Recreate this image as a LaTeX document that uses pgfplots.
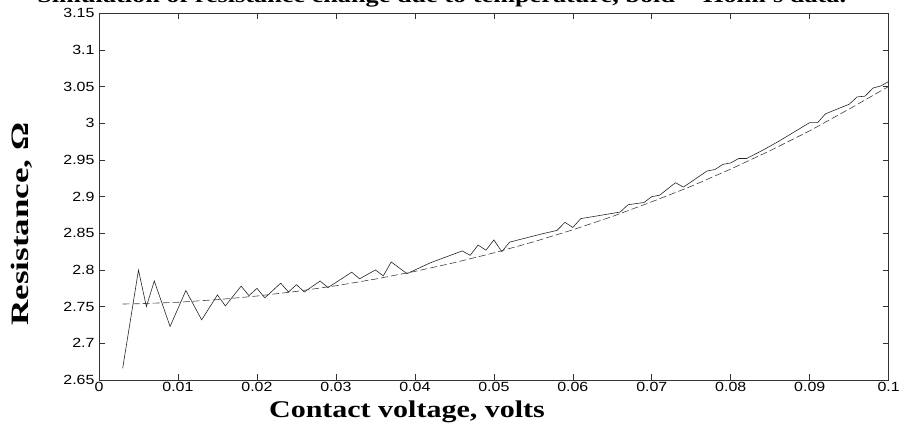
\documentclass[border=0pt]{standalone}
\usepackage{fontspec}
\setmainfont{Liberation Serif}
\newfontfamily\arialfont[FakeStretch=1.2]{Liberation Sans}
\newfontfamily\widefont[FakeStretch=1.25]{Liberation Serif}
\newfontfamily\widerfont[FakeStretch=1.4]{Liberation Serif}
\usepackage{pgfplots}
\pgfplotsset{compat=1.18}
\begin{document}
\begin{tikzpicture}
\begin{axis}[
  scale only axis,
  width=789.7pt, height=366.7pt,
  xmin=0, xmax=0.1, ymin=2.65, ymax=3.15,
  xtick={0,0.01,...,0.1},
  ytick={2.65,2.7,2.75,2.8,2.85,2.9,2.95,3,3.05,3.1,3.15},
  tick align=inside,
  major tick length=6pt,
  axis line style={black!80, line width=0.6pt},
  tick style={black!80, line width=0.6pt},
  /pgf/number format/assume math mode=true,
  xticklabel style={/pgf/number format/fixed, /pgf/number format/precision=2},
  yticklabel style={/pgf/number format/fixed, /pgf/number format/precision=2},
  scaled x ticks=false, scaled y ticks=false,
  ticklabel style={font=\arialfont\fontsize{13.3}{15}\selectfont},
  xticklabel style={yshift=1pt},
  yticklabel style={xshift=-1pt},
  xlabel={\textbf{Contact voltage, volts}},
  ylabel={\textbf{Resistance, Ω}},
  xlabel style={font=\widefont\fontsize{24}{26}\selectfont, at={(rel axis cs:0.39,0)}, anchor=north, yshift=-17pt},
  ylabel style={font=\widerfont\fontsize{25}{27}\selectfont, at={(rel axis cs:-0.0975,0.425)}, anchor=center},
  clip=false,
]
\addplot[black!85, line width=0.6pt] coordinates {
(0.003,2.666) (0.005,2.800) (0.006,2.750) (0.007,2.785) (0.009,2.723)
(0.011,2.772) (0.013,2.732) (0.015,2.766) (0.016,2.751) (0.018,2.778)
(0.019,2.765) (0.020,2.775) (0.021,2.762) (0.023,2.782) (0.024,2.770)
(0.025,2.780) (0.026,2.770) (0.028,2.785) (0.029,2.776) (0.032,2.797)
(0.033,2.788) (0.035,2.800) (0.036,2.792) (0.037,2.811) (0.039,2.795)
(0.042,2.810) (0.046,2.826) (0.047,2.820) (0.048,2.834) (0.049,2.827)
(0.050,2.841) (0.051,2.825) (0.052,2.838) (0.056,2.849) (0.058,2.854)
(0.059,2.865) (0.060,2.858) (0.061,2.870) (0.066,2.879) (0.067,2.889)
(0.069,2.892) (0.070,2.900) (0.071,2.902) (0.073,2.919) (0.074,2.913)
(0.077,2.935) (0.078,2.937) (0.079,2.944) (0.080,2.946) (0.081,2.952)
(0.082,2.952) (0.084,2.963) (0.086,2.975) (0.088,2.988) (0.090,3.001)
(0.091,3.001) (0.092,3.013) (0.095,3.026) (0.096,3.036) (0.097,3.037)
(0.098,3.048) (0.099,3.051) (0.100,3.057)
};
\addplot[black!75, line width=0.6pt, dash pattern=on 7pt off 3pt] coordinates {
(0.003,2.7536) (0.005,2.754) (0.010,2.756) (0.015,2.7596) (0.020,2.7645)
(0.025,2.7708) (0.030,2.7785) (0.035,2.7876) (0.040,2.7981) (0.045,2.8100)
(0.050,2.8233) (0.055,2.8383) (0.060,2.8548) (0.065,2.8729) (0.070,2.8930)
(0.075,2.9142) (0.080,2.9376) (0.085,2.9628) (0.090,2.9898) (0.095,3.0195)
(0.100,3.0503)
};
\node[anchor=base, font=\widefont\bfseries\fontsize{21}{24}\selectfont, inner sep=0pt]
  at ([yshift=11pt]rel axis cs:0.434,1) {Simulation of resistance change due to temperature, bold = Holm's data.};
\end{axis}
\pgfresetboundingbox
\useasboundingbox ([xshift=-99pt,yshift=-43pt]current axis.south west) rectangle ([xshift=17.3pt,yshift=13.3pt]current axis.north east);
\end{tikzpicture}
\end{document}
